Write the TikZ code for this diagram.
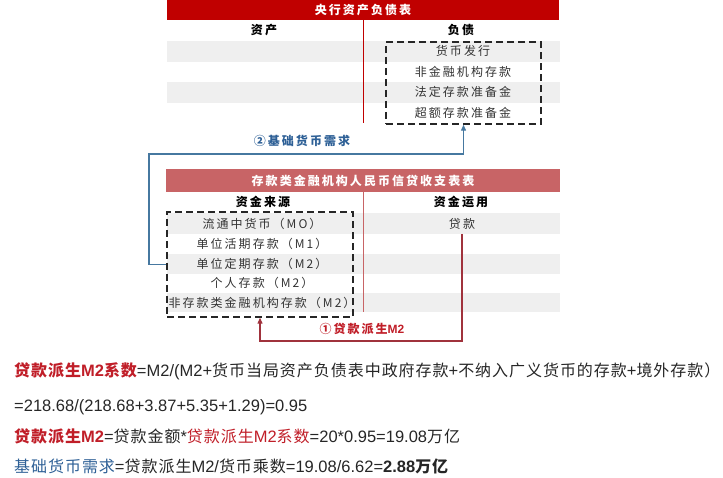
\documentclass[tikz,border=0pt]{standalone}
\usepackage{fontspec}
\setmainfont{Liberation Sans}
\newfontfamily\cjk{Noto Sans CJK SC}[LetterSpace=17]
\newfontfamily\cjkb{Noto Sans CJK SC}[LetterSpace=6]
\usetikzlibrary{arrows.meta}
\usetikzlibrary{positioning}

\definecolor{bannerred}{RGB}{192,0,0}
\definecolor{bannerpink}{RGB}{200,100,102}
\definecolor{stripe}{RGB}{239,239,239}
\definecolor{flowblue}{RGB}{70,120,160}
\definecolor{labelblue}{RGB}{46,96,150}
\definecolor{flowred}{RGB}{160,50,60}
\definecolor{labelred}{RGB}{192,30,40}

\newcommand{\zh}[1]{{\cjkb\fontsize{16}{18}\selectfont #1}}

\begin{document}
\begin{tikzpicture}[x=1pt,y=-1pt,
  cell/.style={font=\cjk\fontsize{12}{14}\selectfont, text=black!80, inner sep=0pt},
  head/.style={font=\cjk\bfseries\fontsize{12}{14}\selectfont, text=black, inner sep=0pt},
  banner/.style={font=\cjk\bfseries\fontsize{12}{14}\selectfont, text=white, inner sep=0pt},
  dashbox/.style={draw=black!85, line width=1.4pt, dash pattern=on 7pt off 4pt, inner sep=0pt},
  flow/.style={line width=1.2pt, -{Triangle[length=6pt,width=5pt]}},
  formula/.style={anchor=base west, inner sep=0pt, font=\fontsize{16.5}{20}\selectfont, text=black!85}]
\useasboundingbox (0,0) rectangle (723,478);

\fill[bannerred] (167,0) rectangle (559,20);
\node[banner] at (363,10) (cbtitle) {央行资产负债表};
\fill[stripe] (167,41) rectangle (560,62);
\fill[stripe] (167,82) rectangle (560,103);
\draw[bannerred, line width=0.8pt] (363,20) -- (363,123);
\node[head] at (264,30) (assets) {资产};
\node[head] at (461,30) (liabs) {负债};
\node[dashbox, minimum width=155pt, minimum height=82pt] at (463.5,83) (liabbox) {};
\foreach \txt [count=\i] in {货币发行,非金融机构存款,法定存款准备金,超额存款准备金}
  \node[cell] at (463,{51+20.67*(\i-1)}) (liab\i) {\txt};

\fill[bannerpink] (166,169) rectangle (560,192);
\node[banner] at (363,180.5) (dctitle) {存款类金融机构人民币信贷收支表表};
\fill[stripe] (167,213) rectangle (560,234);
\fill[stripe] (167,254) rectangle (560,274);
\fill[stripe] (167,293) rectangle (560,312);
\draw[bannerpink, line width=0.8pt] (363,192) -- (363,312);
\node[head] at (263,202) (sources) {资金来源};
\node[head] at (461,202) (uses) {资金运用};
\node[dashbox, minimum width=186pt, minimum height=105pt] at (260,264.5) (srcbox) {};
\foreach \txt [count=\i] in {流通中货币（MO）,单位活期存款（M1）,单位定期存款（M2）,个人存款（M2）,非存款类金融机构存款（M2）}
  \node[cell] at (262,{224+19.75*(\i-1)}) (src\i) {\txt};
\node[cell] at (462,224) (loan) {贷款};

\coordinate (bcorner) at (149,154);
\draw[flow, flowblue] (srcbox.west) -| (bcorner) -| (liabbox.south);
\node[font=\cjk\bfseries\fontsize{12}{14}\selectfont, text=labelblue] at (302,141) (baselabel) {②基础货币需求};

\coordinate (rcorner) at (loan.south |- 0,341);
\draw[flow, flowred] ([yshift=-4pt]loan.south) -- (rcorner) -| (srcbox.south);
\node[font=\bfseries\fontsize{12}{14}\selectfont, text=labelred] at (362,329) (loanlabel) {{\cjk ①贷款派生}M2};

\node[formula] at (14,377) (coefdef) {\textcolor{labelred}{\bfseries\zh{贷款派生}M2\zh{系数}}=M2/(M2+\zh{货币当局资产负债表中政府存款}+\zh{不纳入广义货币的存款}+\zh{境外存款）}};
\node[formula] at (14,411) (coefval) {=218.68/(218.68+3.87+5.35+1.29)=0.95};
\node[formula] at (14,442) (loanm2) {\textcolor{labelred}{\bfseries\zh{贷款派生}M2}=\zh{贷款金额}*\textcolor{labelred}{\zh{贷款派生}M2\zh{系数}}=20*0.95=19.08\zh{万亿}};
\node[formula] at (14,472) (basedemand) {\textcolor{labelblue}{\zh{基础货币需求}}=\zh{贷款派生}M2/\zh{货币乘数}=19.08/6.62=\textbf{2.88\zh{万亿}}};
\end{tikzpicture}
\end{document}
